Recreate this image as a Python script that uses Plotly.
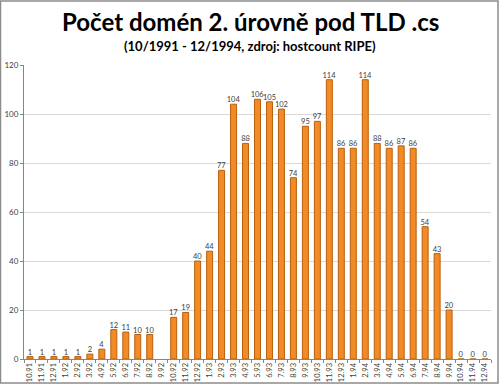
import plotly.graph_objects as go

categories = ["10.91", "11.91", "12.91", "1.92", "2.92", "3.92", "4.92", "5.92", "6.92", "7.92",
              "8.92", "9.92", "10.92", "11.92", "12.92", "1.93", "2.93", "3.93", "4.93", "5.93",
              "6.93", "7.93", "8.93", "9.93", "10.93", "11.93", "12.93", "1.94", "2.94", "3.94",
              "4.94", "5.94", "6.94", "7.94", "8.94", "9.94", "10.94", "11.94", "12.94"]
values = [1, 1, 1, 1, 1, 2, 4, 12, 11, 10,
          10, None, 17, 19, 40, 44, 77, 104, 88, 106,
          105, 102, 74, 95, 97, 114, 86, 86, 114, 88,
          86, 87, 86, 54, 43, 20, 0, 0, 0]
y_ticks = [0, 20, 40, 60, 80, 100, 120]

title_text = "Počet domén 2. úrovně pod TLD .cs"
subtitle_text = "(10/1991 - 12/1994, zdroj: hostcount RIPE)"

labels = ["" if v is None else str(v) for v in values]

fig = go.Figure()
fig.add_trace(go.Bar(
    x=categories, y=values, text=labels, textposition="outside",
    textfont=dict(family="Lato, Open Sans, sans-serif", size=7.5, color="#404040"),
    marker=dict(color="#F28A25", line=dict(color="#B8600E", width=1)),
    cliponaxis=False, constraintext="none",
))

W, H = 500, 388
L, R, T, B = 24, 491, 65, 359
pw, ph = R - L, B - T

fig.update_layout(
    width=W, height=H,
    margin=dict(l=L, r=W - R, t=T, b=H - B, autoexpand=False),
    paper_bgcolor="white", plot_bgcolor="white",
    bargap=0.5, showlegend=False,
    font=dict(family="Lato, Open Sans, sans-serif", color="#404040"),
    xaxis=dict(type="category", tickangle=-90, tickfont=dict(size=7.5, color="#404040"),
               ticks="outside", ticklen=3, tickcolor="#868686", tickson="boundaries",
               showline=True, linecolor="#868686", linewidth=1, showgrid=False,
               automargin=False),
    yaxis=dict(range=[0, 120], tickvals=y_ticks, tickfont=dict(size=8, color="#404040"),
               ticks="outside", ticklen=3, tickcolor="#868686",
               showline=True, linecolor="#868686", linewidth=1,
               showgrid=True, gridcolor="#D9D9D9", gridwidth=1, zeroline=False,
               automargin=False),
    annotations=[
        dict(text="<b>" + title_text + "</b>", xref="paper", yref="paper",
             x=(250 - L) / pw, y=(B - 22) / ph, xanchor="center", yanchor="middle",
             showarrow=False, font=dict(size=24, color="#000000",
                                        family="Lato, Open Sans, sans-serif")),
        dict(text="<b>" + subtitle_text + "</b>", xref="paper", yref="paper",
             x=(250 - L) / pw, y=(B - 46) / ph, xanchor="center", yanchor="middle",
             showarrow=False, font=dict(size=13, color="#000000",
                                        family="Lato, Open Sans, sans-serif")),
    ],
    shapes=[dict(type="rect", xref="paper", yref="paper",
                 x0=(0.5 - L) / pw, x1=(498 - L) / pw,
                 y0=(B - 383) / ph, y1=(B - 1) / ph,
                 line=dict(color="#8C8C8C", width=1.5), fillcolor="rgba(0,0,0,0)",
                 layer="below")],
)

fig.write_html("out.html", config={"displayModeBar": False}, post_script=(
    "document.body.style.margin='0';document.body.style.padding='0';"
    "document.body.style.overflow='hidden';"))
